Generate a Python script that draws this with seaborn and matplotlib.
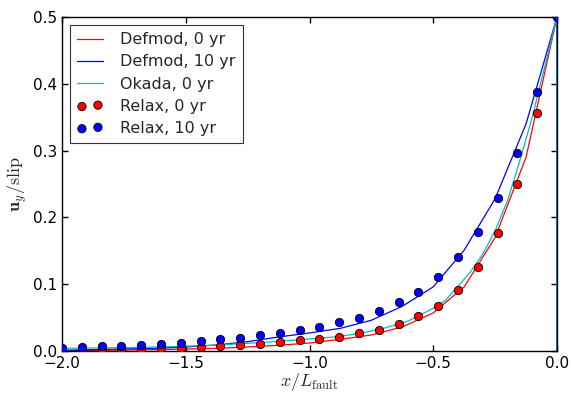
import matplotlib
matplotlib.use("Agg")
import matplotlib.pyplot as plt
import seaborn as sns
import pandas as pd

# Defmod finite-element profiles (mesh nodes), fault at x = 0 with jump to -slip/2
defmod_x = [-2.0, -1.875, -1.75, -1.625, -1.5, -1.375, -1.25, -1.125, -1.0,
            -0.875, -0.75, -0.625, -0.5, -0.375, -0.25, -0.125, 0.0, 0.0]
defmod_0yr = [0.0005, 0.001, 0.0015, 0.002, 0.003, 0.004, 0.006, 0.0085, 0.012,
              0.0175, 0.024, 0.036, 0.057, 0.096, 0.170, 0.290, 0.5, -0.5]
defmod_10yr = [0.001, 0.002, 0.003, 0.004, 0.006, 0.009, 0.014, 0.021, 0.027,
               0.034, 0.046, 0.067, 0.096, 0.151, 0.228, 0.340, 0.5, -0.5]

# Okada analytic elastic solution
okada_x = [-2.0, -1.8, -1.6, -1.4, -1.2, -1.0, -0.9, -0.8, -0.7, -0.6, -0.5,
           -0.45, -0.4, -0.35, -0.3, -0.25, -0.2, -0.15, -0.1, -0.05, 0.0, 0.0]
okada_0yr = [0.004, 0.0048, 0.006, 0.0085, 0.0125, 0.018, 0.021, 0.026, 0.034,
             0.045, 0.064, 0.076, 0.097, 0.118, 0.145, 0.180, 0.225, 0.285,
             0.350, 0.425, 0.5, -0.5]

# Relax results sampled every 0.08 fault lengths
relax_x = [-2.0, -1.92, -1.84, -1.76, -1.68, -1.6, -1.52, -1.44, -1.36, -1.28,
           -1.2, -1.12, -1.04, -0.96, -0.88, -0.8, -0.72, -0.64, -0.56, -0.48,
           -0.4, -0.32, -0.24, -0.16, -0.08, 0.0]
relax_0yr = [0.0025, 0.003, 0.0035, 0.0035, 0.0035, 0.0045, 0.005, 0.0064,
             0.0075, 0.009, 0.0105, 0.013, 0.016, 0.018, 0.0215, 0.0265, 0.032,
             0.041, 0.052, 0.068, 0.092, 0.126, 0.176, 0.250, 0.356, 0.5]
relax_10yr = [0.005, 0.006, 0.007, 0.008, 0.0094, 0.011, 0.012, 0.015, 0.0175,
              0.020, 0.0235, 0.027, 0.031, 0.036, 0.043, 0.050, 0.060, 0.073,
              0.089, 0.111, 0.140, 0.178, 0.229, 0.297, 0.388, 0.5]

sns.set_style("ticks")
plt.rcParams.update({
    "mathtext.fontset": "cm",
    "xtick.direction": "in",
    "ytick.direction": "in",
    "xtick.top": True,
    "ytick.right": True,
    "xtick.major.size": 4,
    "ytick.major.size": 4,
    "axes.edgecolor": "black",
    "axes.linewidth": 1.0,
    "xtick.color": "black",
    "ytick.color": "black",
})
plt.rcParams["font.family"] = ["DejaVu Sans"]

fig = plt.figure(figsize=(5.71, 4.03), dpi=100)
ax = fig.add_axes([62 / 571, 1 - 351 / 403, 495 / 571, 334 / 403])

df_def = pd.DataFrame({"x": defmod_x, "d0": defmod_0yr, "d10": defmod_10yr})
df_ok = pd.DataFrame({"x": okada_x, "o0": okada_0yr})
df_rx = pd.DataFrame({"x": relax_x, "r0": relax_0yr, "r10": relax_10yr})

sns.lineplot(data=df_def, x="x", y="d0", ax=ax, color="#ff0000", lw=0.9,
             sort=False, estimator=None, label="Defmod, 0 yr")
sns.lineplot(data=df_def, x="x", y="d10", ax=ax, color="#0000ff", lw=0.9,
             sort=False, estimator=None, label="Defmod, 10 yr")
sns.lineplot(data=df_ok, x="x", y="o0", ax=ax, color="#00bfbf", lw=0.9,
             sort=False, estimator=None, label="Okada, 0 yr")
sns.scatterplot(data=df_rx, x="x", y="r0", ax=ax, color="#ff0000", s=36,
                edgecolor="black", linewidth=0.6, label="Relax, 0 yr",
                zorder=3, clip_on=True)
sns.scatterplot(data=df_rx, x="x", y="r10", ax=ax, color="#0000ff", s=36,
                edgecolor="black", linewidth=0.6, label="Relax, 10 yr",
                zorder=3, clip_on=True)

ax.set_xlim(-2.0, 0.0)
ax.set_ylim(0.0, 0.5)
ax.set_xticks([-2.0, -1.5, -1.0, -0.5, 0.0])
ax.set_yticks([0.0, 0.1, 0.2, 0.3, 0.4, 0.5])
ax.tick_params(labelsize=11, width=1)
ax.set_xlabel(r"$x/L_\mathrm{fault}$", fontsize=13, labelpad=0)
ax.set_ylabel(r"$\mathbf{u}_y/\mathrm{slip}$", fontsize=13, labelpad=3)

leg = ax.legend(loc="upper left", fontsize=11.5, scatterpoints=2,
                handlelength=1.6, frameon=True, fancybox=False,
                borderaxespad=0.5, borderpad=0.45, handletextpad=1.1,
                labelspacing=0.45)
leg.get_frame().set_edgecolor("black")
leg.get_frame().set_linewidth(0.8)

fig.savefig("out.png", dpi=100)
